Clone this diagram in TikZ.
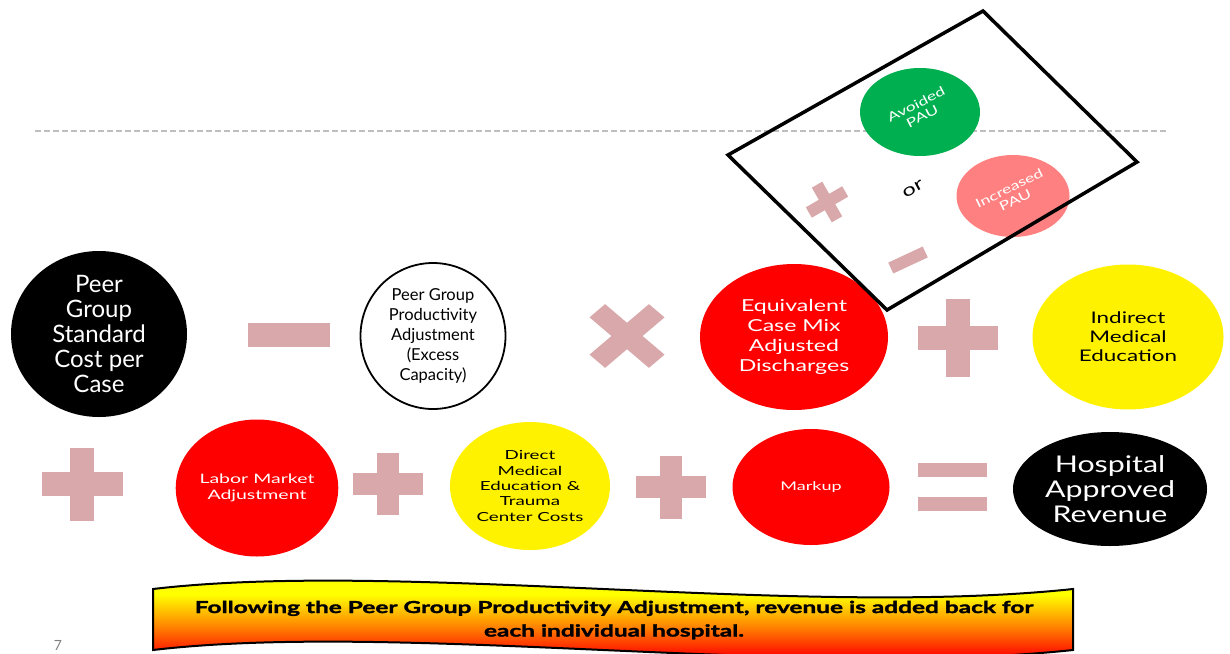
\documentclass[tikz,border=0pt]{standalone}
\usepackage{fontspec}
\setmainfont{Lato}
\newfontfamily\wide[FakeStretch=1.4]{Lato}
\newfontfamily\wider[FakeStretch=1.5]{Lato}
\newfontfamily\hospfont[FakeStretch=1.32]{Lato}
\newfontfamily\bannerfont[FakeStretch=1.48, BoldFeatures={FakeBold=1.8}]{Lato}
\usetikzlibrary{shapes.geometric}
\definecolor{opc}{RGB}{217,168,170}
\definecolor{pgreen}{RGB}{0,176,80}
\definecolor{psalmon}{RGB}{255,128,128}
\definecolor{dashc}{RGB}{190,190,190}
\pgfdeclareverticalshading{bannershade}{100bp}{color(0bp)=(red!70!white); color(6bp)=(red); color(22bp)=(red); color(42bp)=(orange); color(64bp)=(yellow); color(100bp)=(yellow)}
\newcommand\fs[2]{\fontsize{#1}{#2}\selectfont}
\tikzset{
  bubble/.style={ellipse, inner sep=0pt, align=center},
  opbar/.style={fill=opc, draw=none},
}
\newcommand\plusop[5]{% x y w h t
  \fill[opbar] (#1-#3/2,#2-#5/2) rectangle (#1+#3/2,#2+#5/2);
  \fill[opbar] (#1-#5/2,#2-#4/2) rectangle (#1+#5/2,#2+#4/2);}
\begin{document}
\begin{tikzpicture}[x=1pt,y=-1pt]
\useasboundingbox (0,0) rectangle (1230,653);
\fill[white] (0,0) rectangle (1230,653);
% dashed rule
\coordinate (dl) at (35,131);
\coordinate (dr) at (1168,131);
\draw[dashc, line width=1.2pt, dash pattern=on 6pt off 3pt] (dl) -- (dr);

% row 1
\node[bubble, fill=black, text=white, minimum width=176pt, minimum height=144pt, font=\fs{24}{25}] (pg) at (99,334) {Peer\\Group\\Standard\\Cost per\\Case};
\fill[opbar] (248,323) rectangle (330,347);
\node[bubble, draw=black, line width=1.8pt, fill=white, minimum width=145pt, minimum height=146pt, font=\fs{16.5}{20}] (ppa) at (433,336) {Peer Group\\Productivity\\Adjustment\\(Excess\\Capacity)};
\begin{scope}[shift={(627,336)}, yscale=0.85]
  \fill[opbar, rotate=45] (-42,-11) rectangle (42,11);
  \fill[opbar, rotate=-45] (-42,-11) rectangle (42,11);
\end{scope}
\node[bubble, fill=red, text=white, minimum width=188pt, minimum height=146pt, font=\wide\fs{16.5}{20}] (ecm) at (794,337) {Equivalent\\Case Mix\\Adjusted\\Discharges};
\plusop{958}{338}{80}{78}{24}
\node[bubble, fill=yellow, text=black, minimum width=191pt, minimum height=145pt, font=\wide\fs{16}{19}] (ime) at (1128,337) {Indirect\\Medical\\Education};

% row 2
\plusop{82}{484}{81}{73}{24}
\node[bubble, fill=red, text=white, minimum width=160pt, minimum height=137pt, font=\wider\fs{13}{16}] (lma) at (257,488) {Labor Market\\Adjustment};
\plusop{388}{484}{70}{62}{22}
\node[bubble, fill=yellow, text=black, minimum width=160pt, minimum height=128pt, font=\wider\fs{12.5}{15.3}] (dme) at (530,486) {Direct\\Medical\\Education \&\\Trauma\\Center Costs};
\plusop{671}{487}{70}{63}{22}
\node[bubble, fill=red, text=white, minimum width=157pt, minimum height=116pt, font=\wider\fs{12}{14}] (mk) at (811,487) {Markup};
\fill[opbar] (918,463) rectangle (987,477);
\fill[opbar] (918,497) rectangle (987,511);
\node[bubble, fill=black, text=white, minimum width=194pt, minimum height=114pt, font=\hospfont\fs{23}{25}] (har) at (1110,489) {Hospital\\Approved\\Revenue};

% rotated box
\node[bubble, fill=pgreen, text=white, minimum width=120pt, minimum height=88pt, font=\wide\fs{12.5}{13.5}] (apau) at (920,112) {\rotatebox{27}{\begin{tabular}{@{}c@{}}Avoided\\PAU\end{tabular}}};
\node[bubble, fill=psalmon, text=white, minimum width=113pt, minimum height=82pt, font=\wide\fs{12.5}{13.5}] (ipau) at (1013,196) {\rotatebox{26}{\begin{tabular}{@{}c@{}}Increased\\PAU\end{tabular}}};
\node[rotate=28, font=\wide\fs{17}{18}, inner sep=0pt] (or) at (913,189) {or};
\begin{scope}[shift={(827,202)}, rotate=30]
  \fill[opbar] (-21,-6) rectangle (21,6);
  \fill[opbar] (-6,-20) rectangle (6,20);
\end{scope}
\begin{scope}[shift={(908,260)}, rotate=25]
  \fill[opbar] (-19,-6) rectangle (19,6);
\end{scope}
\coordinate (bxl) at (728,155);
\coordinate (bxt) at (983,11);
\coordinate (bxr) at (1137,162);
\coordinate (bxb) at (887,310);
\draw[line width=3.5pt, line join=miter] (bxl) -- (bxt) -- (bxr) -- (bxb) -- cycle;

% banner
\coordinate (ba) at (153,589);
\coordinate (bb) at (1073,589);
\coordinate (bc) at (1073,650);
\coordinate (bd) at (153,650);
\begin{scope}
  \clip (ba) .. controls (400,560) and (800,618) .. (bb) -- (bc)
    .. controls (800,679) and (400,621) .. (bd) -- cycle;
  \shade[shading=bannershade] (150,578) rectangle (1076,653);
\end{scope}
\draw[line width=2pt]
  (ba) .. controls (400,560) and (800,618) .. (bb) -- (bc)
  .. controls (800,679) and (400,621) .. (bd) -- cycle;
\node[font=\bannerfont\bfseries\fs{16.5}{23.5}, align=center] (btxt) at (614,620) {Following the Peer Group Productivity Adjustment, revenue is added back for\\each individual hospital.};

\node[text=gray, font=\fs{14}{16}] (pnum) at (58,645) {7};
\end{tikzpicture}
\end{document}
